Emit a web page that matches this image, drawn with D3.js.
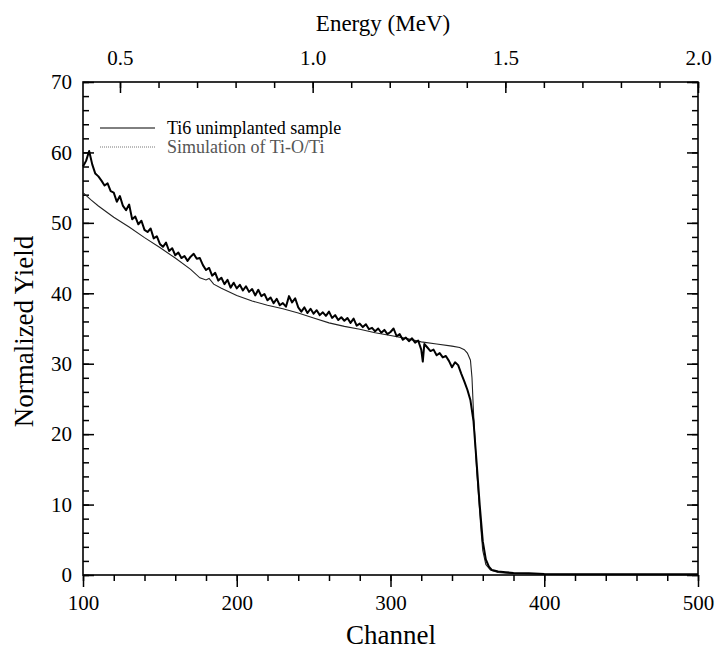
<!DOCTYPE html>
<html>
<head>
<meta charset="utf-8">
<script src="https://cdn.jsdelivr.net/npm/d3@7"></script>
<style>
  body { margin: 0; background: #fff; }
  text { font-family: "Liberation Serif", "Times New Roman", serif; fill: #000; }
</style>
</head>
<body>
<div id="chart"></div>
<script>
// measured spectrum (Ti6 unimplanted sample)
const expChannel = [100,102,104,106,108,110,112,114,116,118,120,122,124,126,128,130,132,134,136,138,
  140,142,144,146,148,150,152,154,156,158,160,162,164,166,168,170,172,174,176,178,
  180,182,184,186,188,190,192,194,196,198,200,202,204,206,208,210,212,214,216,218,
  220,222,224,226,228,230,232,234,236,238,240,242,244,246,248,250,252,254,256,258,
  260,262,264,266,268,270,272,274,276,278,280,282,284,286,288,290,292,294,296,298,
  300,302,304,306,308,310,312,314,316,318,320,321,322,324,326,328,330,332,334,336,
  338,340,342,344,346,348,350,352,354,356,358,360,362,364,366,370,375,380,390,400,420,450,500];
const expYield = [58.0,58.8,60.2,58.3,57.0,56.6,56.0,55.3,55.6,54.5,54.3,53.0,53.8,52.4,51.8,52.6,50.5,50.9,49.8,50.3,
  49.0,48.7,49.2,47.8,48.1,47.0,46.6,47.2,46.0,46.4,45.4,45.8,45.0,45.3,44.6,45.2,45.6,44.9,45.0,44.0,
  43.3,43.6,42.5,42.9,41.8,42.2,41.3,41.9,40.8,41.5,40.7,41.2,40.4,41.0,40.2,40.6,39.7,40.5,39.6,39.9,
  39.0,39.4,38.6,39.2,38.3,38.6,38.1,39.6,38.7,39.3,38.0,37.4,38.0,37.2,37.8,37.1,37.6,36.9,37.3,36.8,
  37.4,36.5,36.9,36.2,36.6,36.1,36.5,35.8,36.4,35.4,35.7,35.2,35.6,34.9,35.1,34.6,35.0,34.4,34.8,34.2,
  34.5,35.0,33.9,34.2,33.4,33.7,33.2,33.6,33.0,33.3,32.0,30.3,32.8,32.3,31.8,32.0,31.2,31.5,30.9,31.1,
  30.4,29.5,30.2,29.8,28.6,27.5,26.3,24.8,21.8,16.0,10.0,4.8,2.2,1.2,0.7,0.5,0.4,0.3,0.25,0.15,0.1,0.1,0.1];

// simulation (Ti-O/Ti)
const simChannel = [100,105,110,120,130,140,150,160,170,176,180,182,185,190,200,210,220,230,240,250,
  260,270,280,290,300,310,320,330,340,345,348,350,352,353,354,355,356,357,358,359,360,362,365,370,380,400,500];
const simYield = [54.3,53.3,52.4,50.8,49.4,47.9,46.5,45.0,43.4,42.2,41.9,42.1,41.3,40.7,39.7,38.9,38.3,37.8,37.2,36.5,
  35.8,35.3,34.9,34.4,34.0,33.6,33.1,32.8,32.5,32.3,32.0,31.5,30.5,28.0,23.0,19.0,15.0,12.0,9.0,6.0,3.5,1.5,0.7,0.35,0.2,0.1,0.05];

const channelTicks = [100, 200, 300, 400, 500];
const yieldTicks = [0, 10, 20, 30, 40, 50, 60, 70];
const energyTicks = [0.5, 1.0, 1.5, 2.0];
const energyRange = [0.404, 2.0]; // energy at channel 100 and 500

const legendLabels = ["Ti6 unimplanted sample", "Simulation of Ti-O/Ti"];

const W = 716, H = 651;
const m = {left: 83, right: 698, top: 82, bottom: 575};

const svg = d3.select("#chart").append("svg")
    .attr("width", W)
    .attr("height", H);

const x = d3.scaleLinear().domain([100, 500]).range([m.left, m.right]);
const y = d3.scaleLinear().domain([0, 70]).range([m.bottom, m.top]);
const e = d3.scaleLinear().domain(energyRange).range([m.left, m.right]);

// minor + major ticks
function ticks(axis, scale, vals, size, pos, labels) {
    const g = svg.append("g")
        .attr("transform", pos)
        .call(axis(scale).tickValues(vals).tickSize(size).tickPadding(labels ? 8 : 0)
            .tickFormat(labels ? labels : () => ""));
    g.select(".domain").remove();
    g.selectAll("line").attr("stroke", "#000").attr("stroke-width", 1.5);
    g.selectAll("text").style("font-size", "21px").style("font-family", "Liberation Serif, serif");
    return g;
}

const chMinor = d3.range(100, 501, 20);
const yMinor = d3.range(0, 71, 2);
const eMinor = d3.range(5, 21).map(d => d / 10);

ticks(d3.axisBottom, x, chMinor, 6, `translate(0,${m.bottom})`);
ticks(d3.axisBottom, x, channelTicks, 12, `translate(0,${m.bottom})`, d => d);
ticks(d3.axisTop, e, eMinor, -6, `translate(0,${m.top})`);
ticks(d3.axisTop, e, energyTicks, -11, `translate(0,${m.top})`, d => d.toFixed(1))
    .selectAll("text").attr("y", -17);
ticks(d3.axisLeft, y, yMinor, -6, `translate(${m.left},0)`);
ticks(d3.axisLeft, y, yieldTicks, -11, `translate(${m.left},0)`, d => d)
    .selectAll("text").attr("x", -11);
ticks(d3.axisRight, y, yMinor, -6, `translate(${m.right},0)`);
ticks(d3.axisRight, y, yieldTicks, -11, `translate(${m.right},0)`);

// frame
svg.append("rect")
    .attr("x", m.left).attr("y", m.top)
    .attr("width", m.right - m.left).attr("height", m.bottom - m.top)
    .attr("fill", "none").attr("stroke", "#000").attr("stroke-width", 1.6);

const line = d3.line().x(d => x(d[0])).y(d => y(d[1]));

svg.append("path")
    .datum(simChannel.map((c, i) => [c, simYield[i]]))
    .attr("fill", "none").attr("stroke", "#222").attr("stroke-width", 1.1)
    .attr("d", line);

svg.append("path")
    .datum(expChannel.map((c, i) => [c, expYield[i]]))
    .attr("fill", "none").attr("stroke", "#000").attr("stroke-width", 2)
    .attr("stroke-linejoin", "round")
    .attr("d", line);

// legend
const lg = svg.append("g");
lg.append("line").attr("x1", 100).attr("x2", 155).attr("y1", 128).attr("y2", 128)
    .attr("stroke", "#000").attr("stroke-width", 1);
lg.append("line").attr("x1", 100).attr("x2", 155).attr("y1", 147).attr("y2", 147)
    .attr("stroke", "#777").attr("stroke-width", 1).attr("stroke-dasharray", "1,1");
lg.selectAll("text").data(legendLabels).enter().append("text")
    .attr("x", 167)
    .attr("y", (d, i) => 134 + i * 19)
    .style("font-size", "18px")
    .style("fill", (d, i) => i ? "#555" : "#000")
    .text(d => d);

// titles
svg.append("text")
    .attr("x", 383).attr("y", 31)
    .attr("text-anchor", "middle")
    .style("font-size", "23px")
    .text("Energy (MeV)");

svg.append("text")
    .attr("x", 391).attr("y", 644)
    .attr("text-anchor", "middle")
    .style("font-size", "27px")
    .text("Channel");

svg.append("text")
    .attr("transform", `translate(33,${(m.top + m.bottom) / 2 + 3}) rotate(-90)`)
    .attr("text-anchor", "middle")
    .style("font-size", "27px")
    .text("Normalized Yield");
</script>
</body>
</html>
